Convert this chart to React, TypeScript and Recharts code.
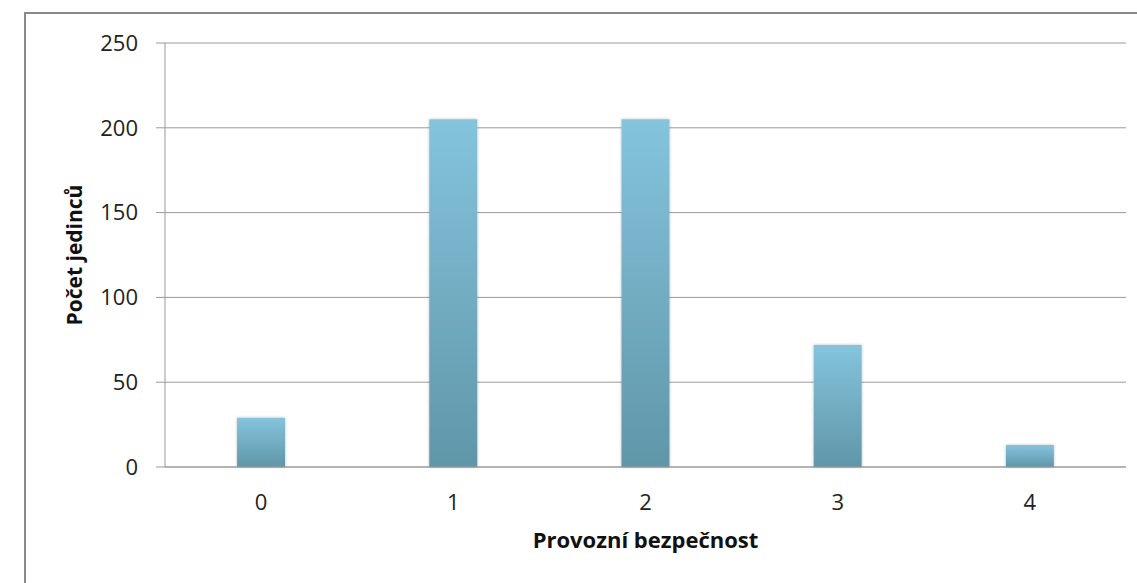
import { BarChart, Bar, XAxis, YAxis, CartesianGrid } from 'recharts';

// Provozní bezpečnost -> počet jedinců
const categories = ['0', '1', '2', '3', '4'];
const counts = [29, 205, 205, 72, 13];
const yTicks = [0, 50, 100, 150, 200, 250];

const data = categories.map((c, i) => ({ name: c, value: counts[i] }));

const FONT = '"Open Sans", "Noto Sans", sans-serif';
const GRID = '#9a9a9a';

export default function App() {
  return (
    <div style={{ position: 'absolute', left: 0, top: 0, width: 1137, height: 583, background: '#fff' }}>
      {/* chart frame, only top and left edges are visible */}
      <div
        style={{
          position: 'absolute',
          left: 24,
          top: 12,
          width: 1113,
          height: 571,
          borderTop: '2px solid #8a8a8a',
          borderLeft: '2px solid #8a8a8a',
        }}
      />
      <div style={{ position: 'absolute', left: 0, top: 0 }}>
        <BarChart
          width={1137}
          height={583}
          data={data}
          margin={{ top: 43, right: 11, left: 100, bottom: 0 }}
          barCategoryGap="37.5%"
        >
          <defs>
            <linearGradient id="barFill" x1="0" y1="0" x2="0" y2="1">
              <stop offset="0%" stopColor="#84c4dd" />
              <stop offset="100%" stopColor="#6096a8" />
            </linearGradient>
            <filter id="barShadow" x="-20%" y="-5%" width="140%" height="110%">
              <feDropShadow dx="0" dy="0" stdDeviation="1.5" floodColor="#000" floodOpacity="0.25" />
            </filter>
          </defs>
          <CartesianGrid vertical={false} stroke={GRID} strokeWidth={1} />
          <XAxis
            dataKey="name"
            height={116}
            axisLine={{ stroke: GRID }}
            tickLine={false}
            tickSize={0}
            tickMargin={27}
            tick={{ fontSize: 22, fill: '#222', fontFamily: FONT }}
            label={{
              value: 'Provozní bezpečnost',
              position: 'insideTop',
              offset: 65,
              style: { fontSize: 22, fontWeight: 700, fill: '#111', fontFamily: FONT },
            }}
          />
          <YAxis
            width={65}
            domain={[0, 250]}
            ticks={yTicks}
            interval={0}
            axisLine={{ stroke: GRID }}
            tickLine={{ stroke: GRID }}
            tickSize={9}
            tickMargin={18}
            tick={{ fontSize: 22, fill: '#222', fontFamily: FONT }}
            label={{
              value: 'Počet jedinců',
              angle: -90,
              position: 'left',
              offset: 25,
              style: { fontSize: 21, fontWeight: 700, fill: '#111', fontFamily: FONT, textAnchor: 'middle' },
            }}
          />
          <Bar
            dataKey="value"
            fill="url(#barFill)"
            filter="url(#barShadow)"
            isAnimationActive={false}
          />
        </BarChart>
      </div>
    </div>
  );
}
